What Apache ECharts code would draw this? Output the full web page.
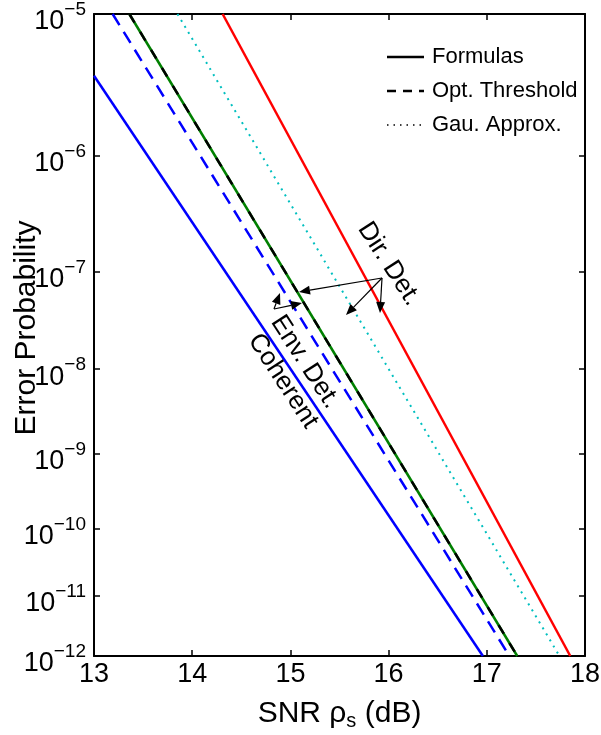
<!DOCTYPE html>
<html><head><meta charset="utf-8">
<script src="https://cdn.jsdelivr.net/npm/echarts@6/dist/echarts.min.js"></script>
<style>html,body{margin:0;padding:0;background:#fff}#c{width:601px;height:735px}</style>
</head><body><div id="c"></div>
<script>
// ---- data (SNR in dB, error probability) ----
const xTicks = [13, 14, 15, 16, 17, 18];
const yTickExponents = [5, 6, 7, 8, 9, 10, 11, 12];
const coherentFormula = [[13.0, 3.9e-6], [16.96, 1e-12]];
const coherentOptThr  = [[13.19, 1e-5], [17.23, 1e-12]];
const envFormula      = [[13.36, 1e-5], [17.31, 1e-12]];
const envOptThr       = [[13.36, 1e-5], [17.31, 1e-12]];
const dirGauss        = [[13.85, 1e-5], [17.74, 1e-12]];
const dirFormula      = [[14.31, 1e-5], [17.85, 1e-12]];
const legendNames = ['Formulas', 'Opt. Threshold', 'Gau. Approx.'];
const legendDash  = ['solid', [9, 7], [1.5, 5]];

// probability axis scale used by the figure
function tr(p) { return Math.log10(-Math.log10(p) - 1); }
function conv(arr) { return arr.map(d => [d[0], tr(d[1])]); }

const FONT = 'Liberation Sans, Arial, Helvetica, sans-serif';
const yMin = tr(Math.pow(10, -yTickExponents[0]));
const yMax = tr(Math.pow(10, -yTickExponents[yTickExponents.length - 1]));
const yTickVals = yTickExponents.map(e => tr(Math.pow(10, -e)));

const chart = echarts.init(document.getElementById('c'), null, {renderer: 'canvas'});

function lineSeries(name, data, color, type, width, z) {
  return {
    type: 'line', name: name, data: conv(data), showSymbol: false, symbol: 'none',
    xAxisIndex: 0, yAxisIndex: 0, z: z || 2, animation: false, silent: true,
    lineStyle: {color: color, width: width, type: type}, itemStyle: {color: color}
  };
}

const axisCommon = {
  axisLine: {show: true, onZero: false, lineStyle: {color: '#000', width: 2}},
  axisTick: {show: true, inside: true, length: 6, lineStyle: {color: '#000', width: 1.5}},
  splitLine: {show: false}
};

const option = {
  animation: false,
  backgroundColor: '#fff',
  grid: {left: 94, top: 14, width: 491, height: 642, containLabel: false, outerBoundsMode: 'none'},
  xAxis: [
    Object.assign({}, axisCommon, {
      type: 'value', min: xTicks[0], max: xTicks[xTicks.length - 1], interval: 1, position: 'bottom',
      axisLabel: {show: true, fontFamily: FONT, fontSize: 27, color: '#000', margin: 5},
      name: '{a|SNR ρ}{s|s}{a| (dB)}', nameLocation: 'middle', nameGap: 41,
      nameTextStyle: {rich: {
        a: {fontFamily: FONT, fontSize: 30, color: '#000'},
        s: {fontFamily: FONT, fontSize: 20, color: '#000', padding: [14, 0, 0, 0]}
      }}
    }),
    Object.assign({}, axisCommon, {
      type: 'value', min: xTicks[0], max: xTicks[xTicks.length - 1], interval: 1, position: 'top',
      axisLabel: {show: false}
    })
  ],
  yAxis: [
    Object.assign({}, axisCommon, {
      type: 'value', inverse: true, min: yMin, max: yMax, position: 'left',
      axisTick: Object.assign({}, axisCommon.axisTick, {customValues: yTickVals}),
      axisLabel: {
        show: true, customValues: yTickVals, margin: 8,
        formatter: v => '{b|10}{s|−' + Math.round(Math.pow(10, v) + 1) + '}',
        rich: {
          b: {fontFamily: FONT, fontSize: 27, color: '#000', padding: [16, 0, 0, 0]},
          s: {fontFamily: FONT, fontSize: 19, color: '#000', padding: [0, 0, 8, 0]}
        }
      }
    }),
    Object.assign({}, axisCommon, {
      type: 'value', inverse: true, min: yMin, max: yMax, position: 'right',
      axisTick: Object.assign({}, axisCommon.axisTick, {customValues: yTickVals}),
      axisLabel: {show: false}
    })
  ],
  series: [
    lineSeries('c1', coherentFormula, '#0000ff', 'solid', 2.5, 2),
    lineSeries('c2', coherentOptThr, '#0000ff', [13, 8], 2.5, 2),
    lineSeries('e1', envFormula, '#008000', 'solid', 2.5, 2),
    lineSeries('e2', envOptThr, '#000000', [10, 11], 2.5, 3),
    lineSeries('d2', dirGauss, '#00bfbf', [2, 5], 2, 2),
    lineSeries('d1', dirFormula, '#ff0000', 'solid', 2.5, 2)
  ]
};
chart.setOption(option);

// ---- annotations, axis title and legend ----
const ROT = -57 * Math.PI / 180;
function txt(s, x, y) {
  return {type: 'text', x: x, y: y, rotation: ROT, z: 10,
    style: {text: s, fontFamily: FONT, fontSize: 26, fill: '#000', align: 'center', verticalAlign: 'middle'}};
}
function arrow(x0, y0, x1, y1) {
  const a = Math.atan2(y1 - y0, x1 - x0), L = 11, W = 4.5;
  const bx = x1 - L * Math.cos(a), by = y1 - L * Math.sin(a);
  const px = -Math.sin(a) * W, py = Math.cos(a) * W;
  return [
    {type: 'line', z: 10, shape: {x1: x0, y1: y0, x2: bx, y2: by}, style: {stroke: '#000', lineWidth: 1.2}},
    {type: 'polygon', z: 10, shape: {points: [[x1, y1], [bx + px, by + py], [bx - px, by - py]]}, style: {fill: '#000'}}
  ];
}
let g = [
  txt('Coherent', 283, 381),
  txt('Env. Det.', 305, 362),
  txt('Dir. Det.', 389, 264),
  {type: 'text', x: 27, y: 328, rotation: Math.PI / 2, z: 10,
    style: {text: 'Error Probability', fontFamily: FONT, fontSize: 30, fill: '#000', align: 'center', verticalAlign: 'middle'}}
].concat(arrow(382, 278, 299, 292), arrow(382, 278, 346, 315), arrow(382, 278, 380, 313),
         arrow(274, 309, 280, 293), arrow(274, 309, 302, 303));
legendNames.forEach((n, i) => {
  const y = 57 + i * 34;
  const d = legendDash[i];
  g.push({type: 'line', z: 10, shape: {x1: 387, y1: y, x2: 424, y2: y},
    style: {stroke: '#000', lineWidth: i === 2 ? 1.5 : 2.5, lineDash: d === 'solid' ? null : d}});
  g.push({type: 'text', x: 432, y: y, z: 10,
    style: {text: n, fontFamily: FONT, fontSize: 22, fill: '#000', align: 'left', verticalAlign: 'middle'}});
});
chart.setOption({graphic: g});
</script></body></html>
